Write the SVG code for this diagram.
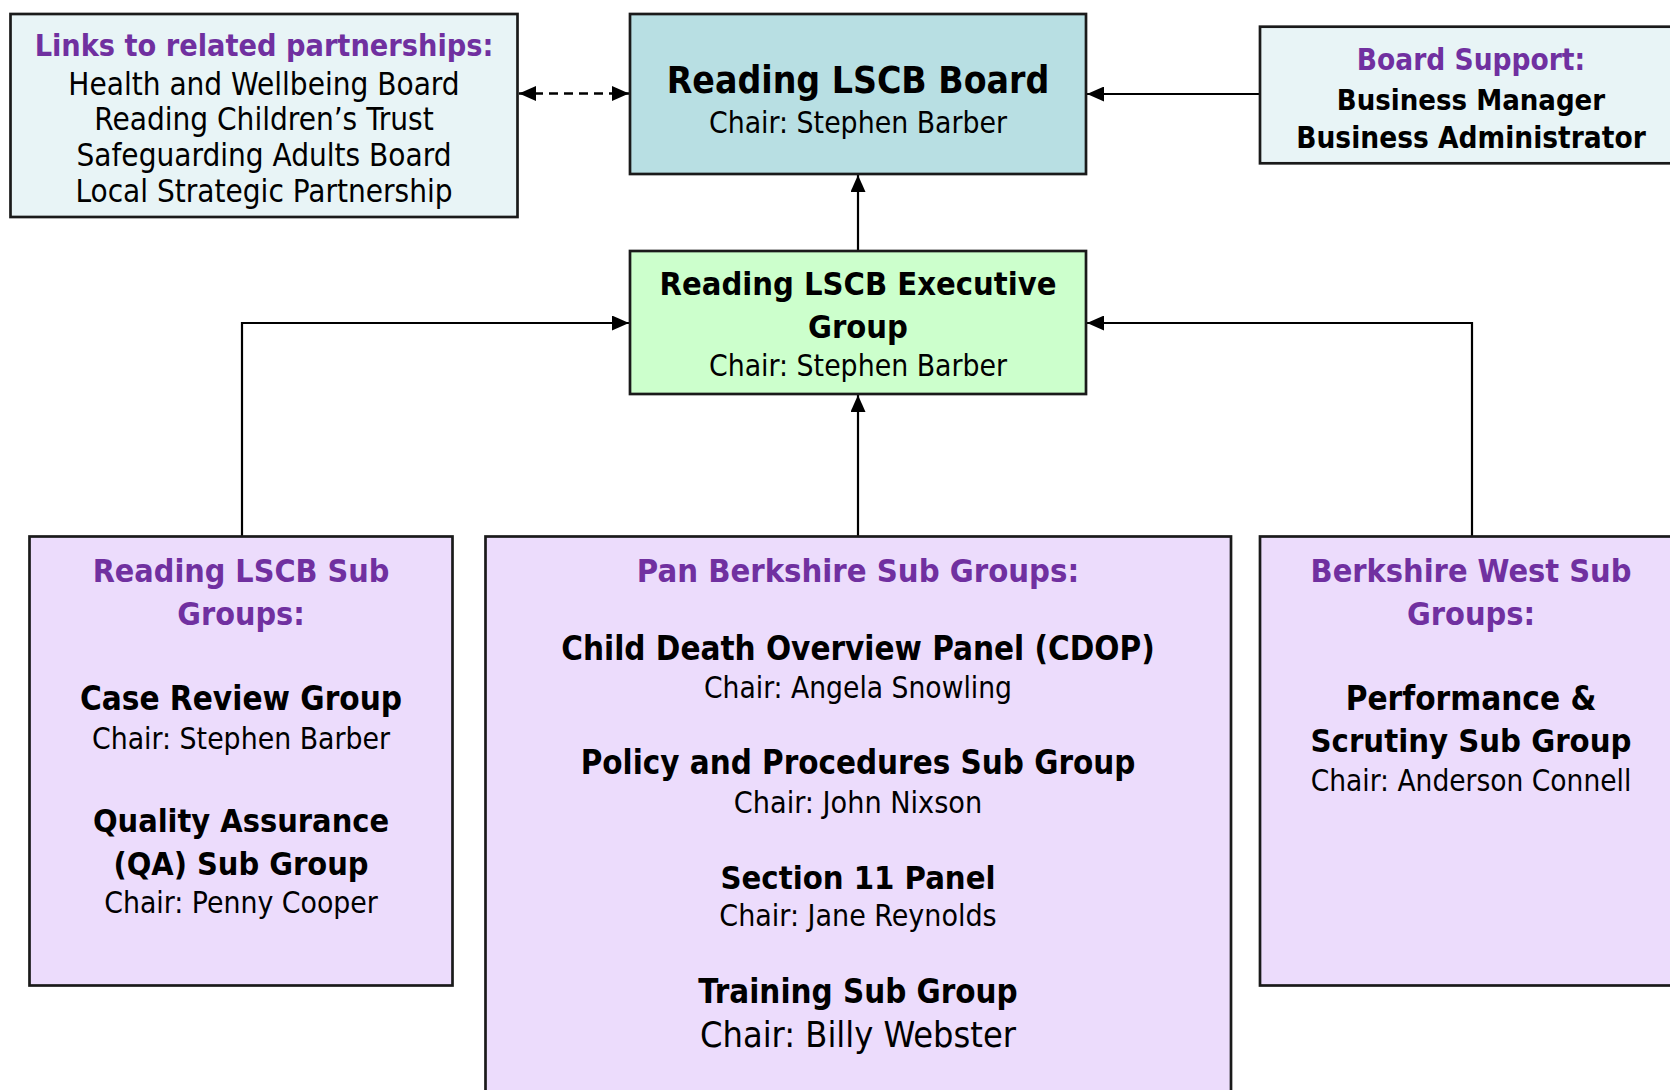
<svg xmlns="http://www.w3.org/2000/svg" width="1670" height="1090" viewBox="0 0 1670 1090">
<style>
.box{stroke:#1a1a1a;stroke-width:2.7}
.lt{fill:#e8f4f6}
.bd{fill:#b8dfe3}
.ex{fill:#ccffcc}
.sb{fill:#ecdcfc}
text{font-family:'DejaVu Sans Condensed','DejaVu Sans',sans-serif;font-stretch:condensed;text-anchor:middle;fill:#000}
.h{fill:#7030a0;font-weight:bold}
.b{font-weight:bold}
.r{font-weight:normal}
.con{fill:none;stroke:#000;stroke-width:2.2}
.dash{stroke-dasharray:9 6;stroke-width:2.5}
</style>
<defs>
<marker id="ah" viewBox="0 0 17 15" refX="17" refY="7.5" markerWidth="17" markerHeight="15" markerUnits="userSpaceOnUse" orient="auto-start-reverse">
<path d="M0,0 L17,7.5 L0,15 z" fill="#000"/>
</marker>
</defs>
<rect width="1670" height="1090" fill="#fff"/>

<g id="connectors">
<line class="con dash" x1="519" y1="93.5" x2="629" y2="93.5" marker-start="url(#ah)" marker-end="url(#ah)"/>
<line class="con" x1="1260" y1="94" x2="1087" y2="94" marker-end="url(#ah)"/>
<line class="con" x1="858" y1="251" x2="858" y2="175" marker-end="url(#ah)"/>
<polyline class="con" points="242,537 242,323 629,323" marker-end="url(#ah)"/>
<line class="con" x1="858" y1="537" x2="858" y2="395" marker-end="url(#ah)"/>
<polyline class="con" points="1472,537 1472,323 1087,323" marker-end="url(#ah)"/>
</g>

<g id="links">
<rect class="box lt" x="10.5" y="14" width="507" height="203"/>
<text class="h" x="264" y="56" font-size="30.3">Links to related partnerships:</text>
<text class="r" x="264" y="94.5" font-size="31.2">Health and Wellbeing Board</text>
<text class="r" x="264" y="130" font-size="31.2">Reading Children’s Trust</text>
<text class="r" x="264" y="166" font-size="31.2">Safeguarding Adults Board</text>
<text class="r" x="264" y="202" font-size="31.2">Local Strategic Partnership</text>
</g>

<g id="board">
<rect class="box bd" x="630" y="14" width="456" height="160"/>
<text class="b" x="858" y="93" font-size="37">Reading LSCB Board</text>
<text class="r" x="858" y="132.5" font-size="29.8">Chair: Stephen Barber</text>
</g>

<g id="support">
<rect class="box lt" x="1260" y="26.7" width="424" height="136.6"/>
<text class="h" x="1471" y="69.5" font-size="29.5">Board Support:</text>
<text class="b" x="1471" y="109.5" font-size="29">Business Manager</text>
<text class="b" x="1471" y="148" font-size="29.5">Business Administrator</text>
</g>

<g id="exec">
<rect class="box ex" x="630" y="251" width="456" height="143"/>
<text class="b" x="858" y="295" font-size="32.4">Reading LSCB Executive</text>
<text class="b" x="858" y="338" font-size="32.4">Group</text>
<text class="r" x="858" y="376" font-size="29.8">Chair: Stephen Barber</text>
</g>

<g id="reading-sub">
<rect class="box sb" x="29.5" y="536.5" width="423" height="449"/>
<text class="h" x="241" y="581.7" font-size="32">Reading LSCB Sub</text>
<text class="h" x="241" y="624.5" font-size="32">Groups:</text>
<text class="b" x="241" y="710" font-size="33">Case Review Group</text>
<text class="r" x="241" y="749" font-size="29.8">Chair: Stephen Barber</text>
<text class="b" x="241" y="832" font-size="32.2">Quality Assurance</text>
<text class="b" x="241" y="874.5" font-size="32.2">(QA) Sub Group</text>
<text class="r" x="241" y="912.5" font-size="29.8">Chair: Penny Cooper</text>
</g>

<g id="pan-berkshire">
<rect class="box sb" x="485.5" y="536.5" width="745.5" height="570"/>
<text class="h" x="858" y="582" font-size="32.5">Pan Berkshire Sub Groups:</text>
<text class="b" x="858" y="660" font-size="32.9">Child Death Overview Panel (CDOP)</text>
<text class="r" x="858" y="698" font-size="29.6">Chair: Angela Snowling</text>
<text class="b" x="858" y="774" font-size="32.8">Policy and Procedures Sub Group</text>
<text class="r" x="858" y="812.7" font-size="30.2">Chair: John Nixson</text>
<text class="b" x="858" y="888.5" font-size="32.5">Section 11 Panel</text>
<text class="r" x="858" y="925.5" font-size="30">Chair: Jane Reynolds</text>
<text class="b" x="858" y="1003.3" font-size="32.8">Training Sub Group</text>
<text class="r" x="858" y="1046.5" font-size="35.8">Chair: Billy Webster</text>
</g>

<g id="berkshire-west">
<rect class="box sb" x="1260" y="536.5" width="424" height="449"/>
<text class="h" x="1471" y="581.7" font-size="32.2">Berkshire West Sub</text>
<text class="h" x="1471" y="624.5" font-size="32.2">Groups:</text>
<text class="b" x="1471" y="710" font-size="33">Performance &amp;</text>
<text class="b" x="1471" y="752" font-size="32.5">Scrutiny Sub Group</text>
<text class="r" x="1471" y="791" font-size="29.5">Chair: Anderson Connell</text>
</g>
</svg>
